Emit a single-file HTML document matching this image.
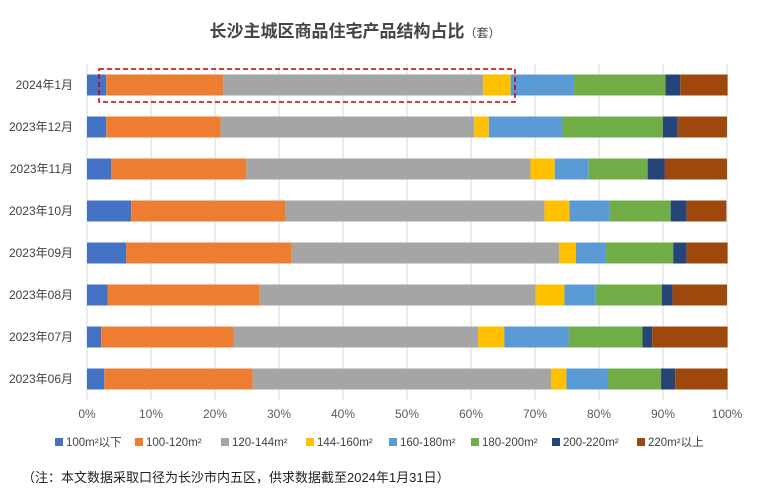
<!DOCTYPE html>
<html><head><meta charset="utf-8"><style>
body{margin:0;background:#fff;font-family:"Liberation Sans","Noto Sans CJK SC",sans-serif;}
svg text{font-family:"Liberation Sans","Noto Sans CJK SC",sans-serif;}
</style></head><body>
<svg id="c" width="757" height="495">
<text x="355" y="37" text-anchor="middle" font-size="17" font-weight="bold" fill="#444">长沙主城区商品住宅产品结构占比<tspan font-size="12" font-weight="normal">（套）</tspan></text>
<g id="grid"></g><g id="bars"></g><g id="ylab"></g><g id="xlab"></g>
<rect x="99" y="69" width="416" height="33" fill="none" stroke="#c00000" stroke-width="1.5" stroke-dasharray="5,3"/>
<g id="legend"></g>
<text x="22" y="482" font-size="13" fill="#222">（注：本文数据采取口径为长沙市内五区，供求数据截至2024年1月31日）</text>
</svg>
<script>
const categories=["2024年1月","2023年12月","2023年11月","2023年10月","2023年09月","2023年08月","2023年07月","2023年06月"];
const seriesNames=["100m²以下","100-120m²","120-144m²","144-160m²","160-180m²","180-200m²","200-220m²","220m²以上"];
const s1=[3.0,3.0,3.8,6.9,6.1,3.2,2.2,2.7];
const s2=[18.3,17.9,21.1,24.1,25.9,23.8,20.7,23.2];
const s3=[40.6,39.6,44.4,40.5,41.8,43.1,38.2,46.6];
const s4=[4.3,2.3,3.8,3.9,2.6,4.5,4.1,2.4];
const s5=[9.9,11.5,5.3,6.3,4.7,4.9,10.1,6.5];
const s6=[14.3,15.7,9.2,9.5,10.5,10.3,11.5,8.3];
const s7=[2.3,2.3,2.7,2.5,2.1,1.7,1.5,2.2];
const s8=[7.4,7.7,9.7,6.2,6.4,8.5,11.8,8.2];
const xTicks=[0,10,20,30,40,50,60,70,80,90,100];
const colors=["#4472c4","#ed7d31","#a5a5a5","#ffc000","#5b9bd5","#70ad47","#264478","#9e480e"];
const series=[s1,s2,s3,s4,s5,s6,s7,s8];
const NS="http://www.w3.org/2000/svg";
const x0=87,x1=727,yTop=64,yBot=400;
const xs=v=>x0+(x1-x0)*v/100;
const band=(yBot-yTop)/categories.length;
const yc=i=>yTop+band*(i+0.5);
function mk(t,a,p){const e=document.createElementNS(NS,t);for(const k in a)e.setAttribute(k,a[k]);p.appendChild(e);return e;}
const g=document.getElementById('grid');
xTicks.forEach(t=>{const l=mk('line',{x1:xs(t),x2:xs(t),y1:yTop,y2:yBot,stroke:'#d9d9d9','stroke-width':1},g);


const tx=mk('text',{x:xs(t),y:418,'text-anchor':'middle','font-size':12,fill:'#595959'},document.getElementById('xlab'));tx.textContent=t+'%';

});
const b=document.getElementById('bars');
categories.forEach((c,i)=>{let acc=0;
series.forEach((s,j)=>{const r=mk('rect',{x:xs(acc),y:yc(i)-10.5,width:xs(acc+s[i])-xs(acc),height:21,fill:colors[j]},b);


acc+=s[i];});
const t=mk('text',{x:73,y:yc(i)+4,'text-anchor':'end','font-size':12,fill:'#404040'},document.getElementById('ylab'));t.textContent=c;

});
const lg=document.getElementById('legend');
const lx=[55,135,221,306,389,471,552,637];
seriesNames.forEach((n,j)=>{const r=mk('rect',{x:lx[j],y:438,width:8,height:8,fill:colors[j]},lg);


const t=mk('text',{x:lx[j]+11,y:446,'font-size':11.5,fill:'#404040'},lg);t.textContent=n;

});
</script>
</body></html>
